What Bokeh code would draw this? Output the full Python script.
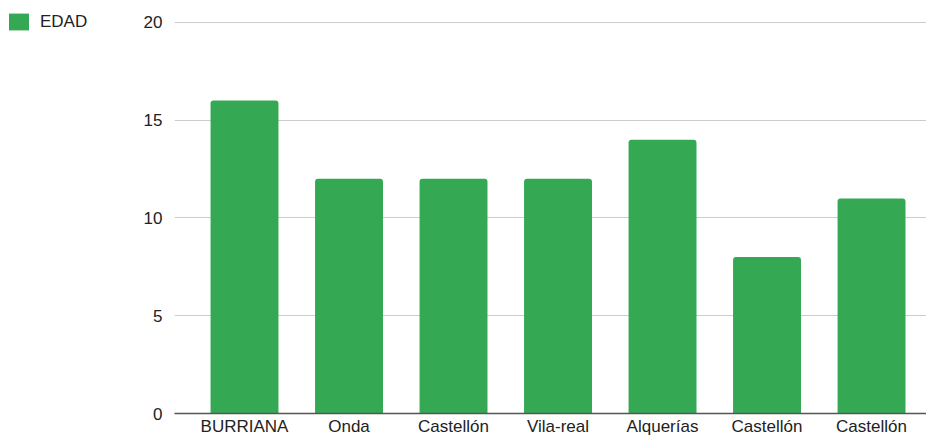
from bokeh.plotting import figure
from bokeh.layouts import row
from bokeh.models import ColumnDataSource, Range1d, FixedTicker, Legend, LegendItem
from bokeh.embed import file_html
from bokeh.resources import INLINE

categories = ["BURRIANA", "Onda", "Castellón", "Vila-real", "Alquerías", "Castellón", "Castellón"]
edad = [16, 12, 12, 12, 14, 8, 11]
y_ticks = [0, 5, 10, 15, 20]
series_name = "EDAD"

BAR_COLOR = "#34a853"
font = "Liberation Sans"

positions = list(range(len(categories)))
source = ColumnDataSource(data=dict(x=positions, top=edad, label=categories))

# main chart (top headroom provided by the y range so the legend panel can start at the top)
p = figure(width=786, height=438, output_backend="svg", toolbar_location=None,
           x_range=Range1d(-0.67, 6.526), y_range=Range1d(0, 21.12),
           min_border_left=33, min_border_right=0, min_border_top=0, min_border_bottom=0)
p.title.visible = False
p.outline_line_color = None
p.background_fill_color = "white"
p.border_fill_color = "white"

bars = p.vbar(x="x", top="top", width=0.65, source=source, fill_color=BAR_COLOR,
              line_color=None, border_radius=(3, 3, 0, 0))

p.xaxis.ticker = FixedTicker(ticks=positions)
p.xaxis.major_label_overrides = {i: c for i, c in enumerate(categories)}
p.xaxis.major_tick_line_color = None
p.xaxis.major_tick_out = 0
p.xaxis.major_tick_in = 0
p.xaxis.minor_tick_line_color = None
p.xaxis.axis_label_standoff = 0
p.xaxis.axis_line_color = "#555555"
p.xaxis.axis_line_width = 1.5
p.xaxis.major_label_text_font = font
p.xaxis.major_label_text_font_size = "17px"
p.xaxis.major_label_text_color = "#222222"
p.xaxis.major_label_standoff = 3

p.yaxis.ticker = FixedTicker(ticks=y_ticks)
p.yaxis.axis_line_color = None
p.yaxis.major_tick_line_color = None
p.yaxis.major_tick_out = 0
p.yaxis.major_tick_in = 0
p.yaxis.minor_tick_line_color = None
p.yaxis.major_label_text_font = font
p.yaxis.major_label_text_font_size = "17px"
p.yaxis.major_label_text_color = "#222222"
p.yaxis.major_label_standoff = 12

p.xgrid.grid_line_color = None
p.ygrid.grid_line_color = "#cccccc"
p.ygrid.ticker = FixedTicker(ticks=y_ticks[1:])

# legend panel on the left
lg = figure(width=140, height=438, output_backend="svg", toolbar_location=None,
            x_range=Range1d(0, 1), y_range=Range1d(0, 1),
            x_axis_type=None, y_axis_type=None,
            min_border_left=0, min_border_right=0, min_border_top=0, min_border_bottom=0)
lg.title.visible = False
lg.outline_line_color = None
lg.background_fill_color = "white"
lg.border_fill_color = "white"
lg.xgrid.visible = False
lg.ygrid.visible = False
key_src = ColumnDataSource(data=dict(x=[5.0], top=[5.0]))
key = lg.vbar(x="x", top="top", width=0.5, source=key_src, fill_color=BAR_COLOR, line_color=None)

legend = Legend(items=[LegendItem(label=series_name, renderers=[key])],
                location="top_left", border_line_color=None, background_fill_alpha=0,
                padding=0, margin=6, glyph_width=25, glyph_height=21, label_standoff=9,
                label_height=31,
                label_text_font=font, label_text_font_size="17px", label_text_color="#222222")
lg.add_layout(legend, "center")

layout = row(lg, p, spacing=0)
open("out.html", "w").write(file_html(layout, INLINE))
